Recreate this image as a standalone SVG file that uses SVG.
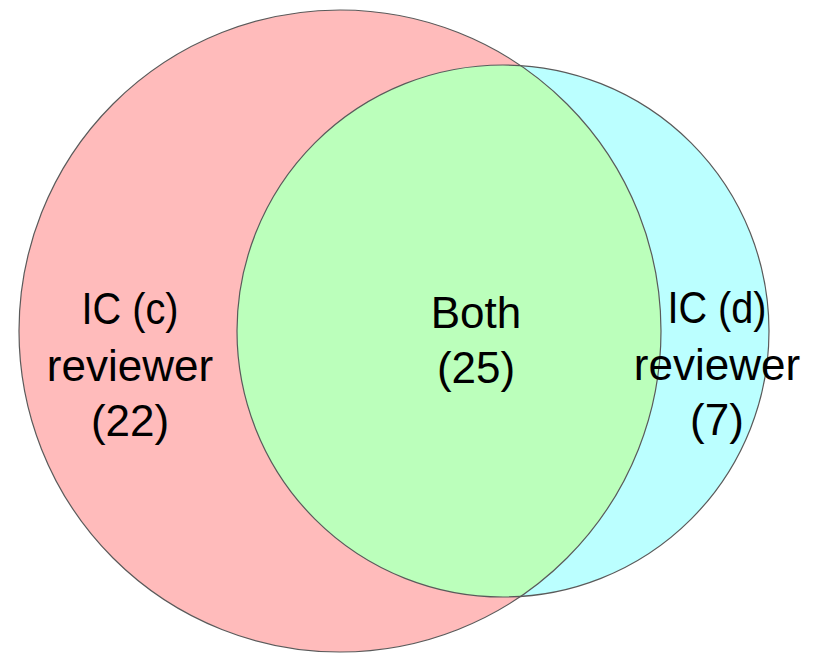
<svg xmlns="http://www.w3.org/2000/svg" width="817" height="654" viewBox="0 0 817 654">
<style>
.lbl{font-family:"Liberation Sans",Arial,sans-serif;font-size:44px;fill:#000;text-anchor:middle}
.edge{fill:none;stroke:#5a5a5a;stroke-width:1.2}
</style>
<defs>
<clipPath id="clipRed"><circle cx="340" cy="331" r="321"/></clipPath>
</defs>
<rect width="817" height="654" fill="#ffffff"/>
<g id="set-c">
<circle cx="340" cy="331" r="321" fill="#ffbbbb"/>
</g>
<g id="set-d">
<circle cx="503" cy="331" r="266" fill="#bbffff"/>
</g>
<g id="both">
<circle cx="503" cy="331" r="266" fill="#bbffbb" clip-path="url(#clipRed)"/>
</g>
<g id="outlines">
<circle class="edge" cx="340" cy="331" r="321"/>
<circle class="edge" cx="503" cy="331" r="266"/>
</g>
<g id="labels">
<text class="lbl" x="130" y="324" textLength="97" lengthAdjust="spacingAndGlyphs">IC (c)</text>
<text class="lbl" x="130" y="381">reviewer</text>
<text class="lbl" x="130" y="436">(22)</text>
<text class="lbl" x="476" y="328">Both</text>
<text class="lbl" x="476" y="383">(25)</text>
<text class="lbl" x="717" y="323" textLength="99" lengthAdjust="spacingAndGlyphs">IC (d)</text>
<text class="lbl" x="717" y="380">reviewer</text>
<text class="lbl" x="717" y="435">(7)</text>
</g>
</svg>
